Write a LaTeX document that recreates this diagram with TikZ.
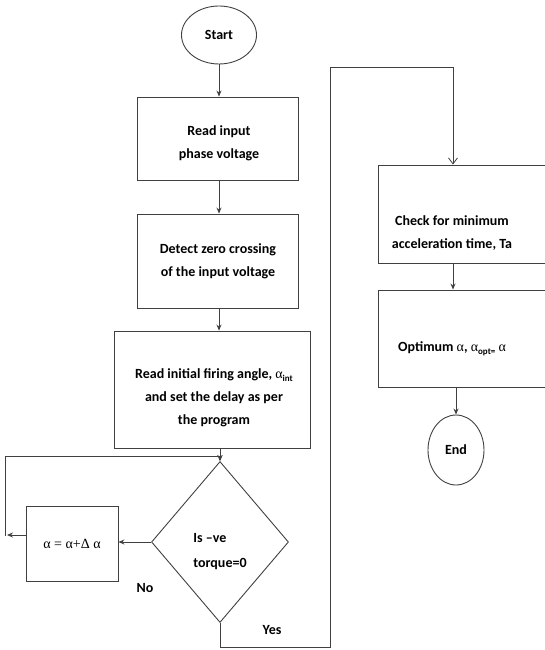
\documentclass[tikz,border=0pt]{standalone}
\usepackage{fontspec}
\setmainfont{Carlito}
\newfontfamily\tms{Liberation Serif}
\usetikzlibrary{shapes.geometric,arrows.meta}
\newcommand{\alp}{{\tms\mdseries α}}
\newcommand{\sbs}[1]{\raisebox{-2.5pt}{\fontsize{9}{9}\selectfont #1}}
\begin{document}
\begin{tikzpicture}[x=1pt,y=-1pt,
  every node/.style={font=\fontsize{14}{23}\selectfont\bfseries, text=black},
  boxline/.style={draw=black!75, line width=0.9pt},
  proc/.style={boxline, align=center, inner sep=0pt},
  conn/.style={draw=black!75, line width=0.8pt},
  arr/.style={conn, -{Stealth[length=6pt,width=5pt]}},
  oarr/.style={conn, -{Straight Barb[length=6pt,width=9pt]}},
  lbl/.style={inner sep=0pt}
]
\useasboundingbox (0,0) rectangle (545,650);
\clip (0,0) rectangle (545,650);

% nodes
\node[ellipse, boxline, minimum width=75pt, minimum height=58pt, inner sep=0pt] (start) at (219,35) {Start};
\node[proc, minimum width=161pt, minimum height=83pt] (box1) at (217.5,138.5) {};
\node[lbl, align=center] (t1) at (219,143) {Read input\\phase voltage};
\node[proc, minimum width=161pt, minimum height=94pt] (box2) at (217.5,261) {};
\node[lbl, align=center] (t2) at (218,261) {Detect zero crossing\\of the input voltage};
\node[proc, minimum width=196pt, minimum height=117pt] (box3) at (212,389.5) {};
\node[lbl, align=center] (t3) at (214,398) {Read initial firing angle, \alp\sbs{int}\\and set the delay as per\\the program};
\node[diamond, boxline, minimum width=137pt, minimum height=161pt, inner sep=0pt] (diam) at (220,542) {};
\node[lbl, align=left, font=\fontsize{14}{25}\selectfont\bfseries] (dtext) at (220,552) {Is –ve\\torque=0};
\node[proc, minimum width=92pt, minimum height=75pt] (boxA) at (72,543.5) {{\tms\mdseries\fontsize{14}{16}\selectfont α = α+Δ α}};
\node[proc, minimum width=182pt, minimum height=98pt] (b4) at (469,214) {};
\node[lbl, align=center] (t4) at (452,233) {Check for minimum\\acceleration time, Ta};
\node[proc, minimum width=182pt, minimum height=97pt] (b5) at (469,338.5) {};
\node[lbl] (t5) at (452,349) {Optimum \alp, \alp\sbs{opt=} \alp};
\node[ellipse, boxline, minimum width=56pt, minimum height=70pt, inner sep=0pt] (end) at (456,450) {End};
\node[lbl] (no) at (145,588) {No};
\node[lbl] (yes) at (272,630) {Yes};

% connectors
\draw[arr] (start.south) -- (start.south |- box1.north);
\draw[arr] (start.south |- box1.south) -- (start.south |- box2.north);
\draw[arr] (start.south |- box2.south) -- (start.south |- box3.north);
\draw[arr] (diam.north |- box3.south) -- (diam.north);
\draw[arr] (diam.west) -- (diam.west -| boxA.east);

\coordinate (la) at (7,535);
\coordinate (lb) at (5,536);
\coordinate (lc) at (5,456);
\draw[arr] (boxA.west |- la) -- (la);
\draw[arr] (lb) -- (lc) -- (lc -| diam.north) -- (diam.north);

\coordinate (y1) at (220,647);
\coordinate (y2) at (330,647);
\coordinate (y3) at (330,67);
\coordinate (y4) at (453,67);
\draw[oarr] (diam.south) -- (y1) -- (y2) -- (y3) -- (y4) -- (y4 |- b4.north);

\draw[arr] (y4 |- b4.south) -- (y4 |- b5.north);
\draw[arr] (end.north |- b5.south) -- (end.north);
\end{tikzpicture}
\end{document}
